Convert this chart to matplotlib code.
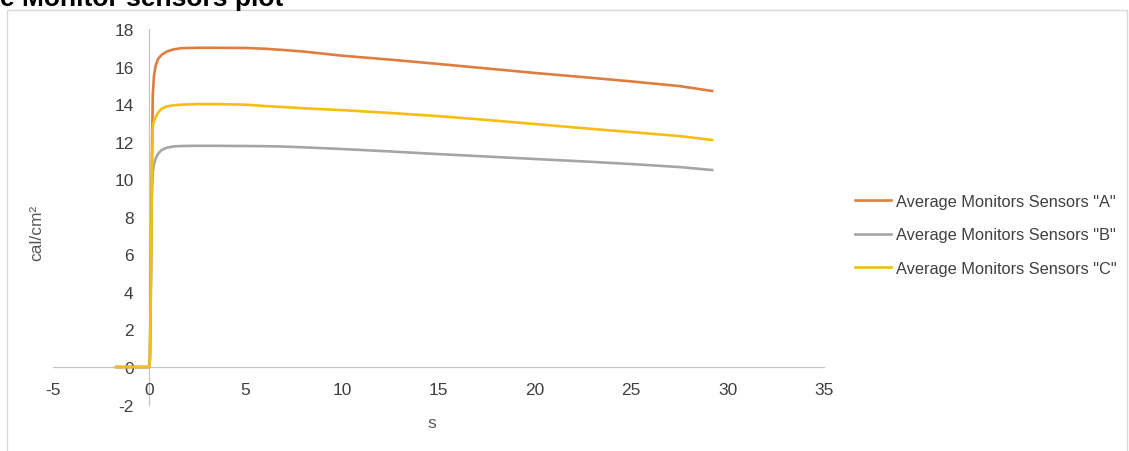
import matplotlib
matplotlib.use("Agg")
import matplotlib.pyplot as plt
from matplotlib import font_manager
from matplotlib.patches import Rectangle

# ---- data ----
time_s = [-1.7, 0.0, 0.05, 0.1, 0.15, 0.2, 0.26, 0.35, 0.47, 0.65, 0.93, 1.3, 1.7, 2.5, 3.5,
          5.0, 6.0, 7.0, 8.0, 10.0, 12.5, 15.0, 17.5, 20.0, 22.5, 25.0, 27.5, 29.2]
sensors_a = [0, 0, 0.5, 5.0, 11.0, 14.5, 15.5, 16.05, 16.4, 16.62, 16.8, 16.92, 16.98, 17.0, 17.0,
             16.99, 16.95, 16.88, 16.8, 16.58, 16.37, 16.14, 15.9, 15.66, 15.44, 15.21, 14.96, 14.7]
sensors_b = [0, 0, 0.3, 4.0, 9.0, 10.4, 10.8, 11.1, 11.35, 11.55, 11.68, 11.75, 11.77, 11.78, 11.78,
             11.77, 11.76, 11.74, 11.7, 11.61, 11.48, 11.34, 11.21, 11.08, 10.95, 10.81, 10.65, 10.49]
sensors_c = [0, 0, 0.4, 4.5, 10.0, 12.8, 13.1, 13.3, 13.55, 13.75, 13.88, 13.94, 13.97, 14.0, 14.0,
             13.97, 13.9, 13.84, 13.78, 13.68, 13.53, 13.36, 13.16, 12.94, 12.72, 12.51, 12.3, 12.09]
series_labels = ['Average Monitors Sensors "A"', 'Average Monitors Sensors "B"',
                 'Average Monitors Sensors "C"']
series_colors = ['#DD7E40', '#A5A5A5', '#F5BE10']
x_ticks = [-5, 0, 5, 10, 15, 20, 25, 30, 35]
y_ticks = [-2, 0, 2, 4, 6, 8, 10, 12, 14, 16, 18]

# ---- fonts ----
available = {f.name for f in font_manager.fontManager.ttflist}
narrow = 'Liberation Sans'
for cand in ['Liberation Sans Narrow', 'Arial Narrow', 'Liberation Sans']:
    if cand in available:
        narrow = cand
        break
plt.rcParams['font.family'] = [narrow, 'DejaVu Sans']

W, H = 1129, 452
fig = plt.figure(figsize=(W / 100, H / 100), dpi=100)
fig.patch.set_facecolor('white')

# chart border (screenshot frame)
fig.patches.append(Rectangle((7 / W, -0.1), (1127 - 7) / W, (H - 11) / H + 0.1,
                             transform=fig.transFigure, fill=False,
                             edgecolor='#D9D9D9', linewidth=1.0))

# clipped title at top
fig.text(0 / W, 1 - 6 / H, 'e Monitor sensors plot', fontsize=19, fontweight='bold',
         family='Liberation Sans', color='black', ha='left', va='baseline')

x_left, x_right = 52.5, 824.0
y_top, y_bot = 30.0, 405.6
ax = fig.add_axes([x_left / W, (H - y_bot) / H, (x_right - x_left) / W, (y_bot - y_top) / H])
ax.set_facecolor('none')

for vals, lab, col in zip([sensors_a, sensors_b, sensors_c], series_labels, series_colors):
    ax.plot(time_s, vals, color=col, linewidth=1.9, label=lab, solid_joinstyle='round')

ax.set_xlim(-5, 35)
ax.set_ylim(-2, 18)
ax.set_xticks(x_ticks)
ax.set_yticks(y_ticks)
ax.set_xticklabels([str(v) for v in x_ticks])
ax.set_yticklabels([str(v) for v in y_ticks])

for side in ['top', 'right']:
    ax.spines[side].set_visible(False)
ax.spines['left'].set_position(('data', 0))
ax.spines['bottom'].set_position(('data', 0))
for side in ['left', 'bottom']:
    ax.spines[side].set_color('#C4C4C4')
    ax.spines[side].set_linewidth(0.9)
    ax.spines[side].set_zorder(0.5)

ax.tick_params(axis='both', length=0, labelsize=12.5, labelcolor='#404040')
ax.tick_params(axis='y', pad=11)
ax.tick_params(axis='x', pad=10.5)

ax.set_xlabel('s', fontsize=12.5, color='#595959')
ax.xaxis.set_label_coords(((432 - x_left) / (x_right - x_left)), (y_bot - 416) / (y_bot - y_top))
ax.set_ylabel('cal/cm²', fontsize=12.5, color='#595959')
ax.yaxis.label.set_va('center')
ax.yaxis.set_label_coords((37 - x_left) / (x_right - x_left), (y_bot - 233) / (y_bot - y_top))

leg = fig.legend(loc='upper left', bbox_to_anchor=(855 / W, 1 - 195 / H),
                 frameon=False, fontsize=11.8, handlelength=2.2, handletextpad=0.3,
                 labelspacing=1.12, borderpad=0, borderaxespad=0)
for t in leg.get_texts():
    t.set_color('#404040')

fig.savefig('out.png', dpi=100)
